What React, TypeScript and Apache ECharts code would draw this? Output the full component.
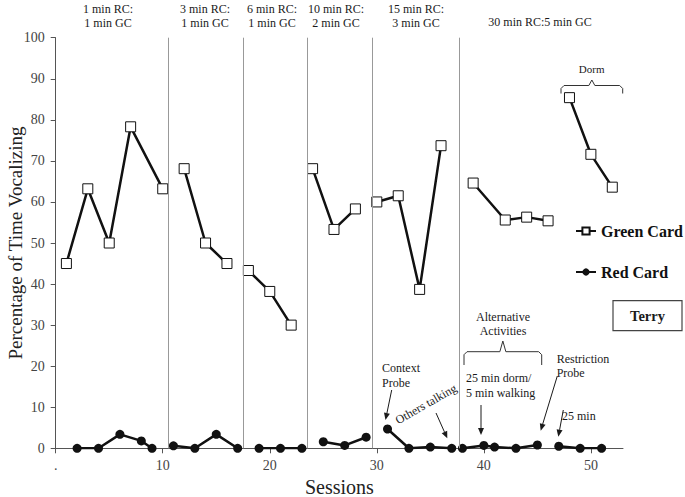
import React, { useEffect, useRef } from "react";
import * as echarts from "echarts";

const FONT = '"Liberation Serif", "Times New Roman", serif';

// Green Card (open squares)
const greenSessions = [1, 3, 5, 7, 10, 12, 14, 16, 18, 20, 22, 24, 26, 28, 30, 32, 34, 36, 39, 42, 44, 46, 48, 50, 52];
const greenValues = [45, 63.2, 50, 78.3, 63.2, 68.1, 50, 45, 43.3, 38.2, 30, 68.1, 53.3, 58.3, 60, 61.5, 38.7, 73.7, 64.6, 55.6, 56.3, 55.4, 85.4, 71.6, 63.6];
const greenSegments = [5, 3, 3, 3, 4, 4, 3];

// Red Card (filled circles)
const redSessions = [2, 4, 6, 8, 9, 11, 13, 15, 17, 19, 21, 23, 25, 27, 29, 31, 33, 35, 37, 38, 40, 41, 43, 45, 47, 49, 51];
const redValues = [0, 0, 3.4, 1.8, 0, 0.6, 0, 3.4, 0, 0, 0, 0, 1.6, 0.7, 2.7, 4.7, 0, 0.3, 0, 0, 0.7, 0.3, 0, 0.8, 0.5, 0, 0];
const redSegments = [5, 4, 3, 3, 4, 5, 3];

// Phase change lines (session positions)
const phaseLines = [10.55, 17.5, 23.46, 29.53, 37.7];
const phaseLabels = [
  "1 min RC:\n1 min GC",
  "3 min RC:\n1 min GC",
  "6 min RC:\n1 min GC",
  "10 min RC:\n2 min GC",
  "15 min RC:\n3 min GC",
  "30 min RC:5 min GC",
];

const xTicks = { min: 0, max: 53, interval: 10 };
const yTicks = { min: 0, max: 100, interval: 10 };

function buildData(xs: number[], ys: number[], segs: number[]) {
  const out: any[] = [];
  let i = 0;
  segs.forEach((n, si) => {
    for (let k = 0; k < n; k++) {
      out.push([xs[i], ys[i]]);
      i++;
    }
    if (si < segs.length - 1) out.push([xs[i - 1] + 0.5, "-"]);
  });
  return out;
}

function txt(text: string, x: number, y: number, size: number, align = "center", extra: any = {}) {
  const { weight, ...rest } = extra;
  return {
    type: "text",
    x,
    y,
    z: 10,
    ...rest,
    style: {
      text,
      font: `${weight || "normal"} ${size}px ${FONT}`,
      fill: "#1a1a1a",
      align,
      verticalAlign: "middle",
    },
  };
}

function arrow(x1: number, y1: number, x2: number, y2: number) {
  const a = Math.atan2(y2 - y1, x2 - x1);
  const L = 7;
  const W = 3;
  const c = Math.cos(a);
  const s = Math.sin(a);
  const bx = x2 - L * c;
  const by = y2 - L * s;
  return {
    type: "group",
    z: 10,
    children: [
      { type: "line", shape: { x1, y1, x2: bx, y2: by }, style: { stroke: "#1a1a1a", lineWidth: 1 } },
      {
        type: "polygon",
        shape: { points: [[x2, y2], [bx - W * s, by + W * c], [bx + W * s, by - W * c]] },
        style: { fill: "#1a1a1a" },
      },
    ],
  };
}

function brace(x1: number, x2: number, yTop: number, yEnd: number, yTip: number) {
  const xm = (x1 + x2) / 2;
  return {
    type: "polyline",
    z: 10,
    shape: {
      points: [
        [x1, yEnd],
        [x1, yTop + 3],
        [x1 + 3, yTop],
        [xm - 3, yTop],
        [xm, yTip],
        [xm + 3, yTop],
        [x2 - 3, yTop],
        [x2, yTop + 3],
        [x2, yEnd],
      ],
    },
    style: { stroke: "#333", lineWidth: 1, fill: null },
  };
}

export default function App() {
  const ref = useRef<HTMLDivElement>(null);
  useEffect(() => {
    if (!ref.current) return;
    const chart = echarts.init(ref.current, undefined, { renderer: "svg" });
    const labelCenters = [108, 205, 272, 336, 416];
    const graphic: any[] = [];
    phaseLabels.slice(0, 5).forEach((t, i) => {
      const [l1, l2] = t.split("\n");
      graphic.push(txt(l1, labelCenters[i], 8.5, 12));
      graphic.push(txt(l2, labelCenters[i], 23.3, 12));
    });
    graphic.push(txt(phaseLabels[5], 540, 22.3, 12));
    graphic.push(txt("Dorm", 591.7, 69, 11));
    graphic.push(brace(561, 622.7, 85.5, 93.5, 80));
    graphic.push(txt("Alternative", 503, 316.7, 12));
    graphic.push(txt("Activities", 503, 331, 12));
    graphic.push(brace(464, 541.7, 351.7, 365, 341));
    graphic.push(txt("Context", 382, 368.3, 12, "left"));
    graphic.push(txt("Probe", 382, 382.7, 12, "left"));
    graphic.push(arrow(391.7, 390, 385.5, 420));
    graphic.push(txt("Others talking", 426, 404, 12, "center", { rotation: 0.52 }));
    graphic.push(arrow(436, 413, 447.3, 438.3));
    graphic.push(txt("25 min dorm/", 466, 378.3, 12, "left"));
    graphic.push(txt("5 min walking", 466, 393.3, 12, "left"));
    graphic.push(arrow(481, 405, 481, 435));
    graphic.push(txt("Restriction", 556.7, 359.3, 12, "left"));
    graphic.push(txt("Probe", 556.7, 372.7, 12, "left"));
    graphic.push(arrow(557.3, 376, 540.7, 430.7));
    graphic.push(txt("25 min", 562, 416, 12, "left"));
    graphic.push(arrow(563.3, 410, 558.3, 436.7));
    graphic.push({
      type: "rect",
      z: 10,
      shape: { x: 613, y: 300.7, width: 69, height: 30 },
      style: { fill: "#fff", stroke: "#444", lineWidth: 1.2 },
    });
    graphic.push(txt("Terry", 647.5, 316, 14.5, "center", { weight: "bold" }));

    const legendText = { fontFamily: FONT, fontWeight: "bold", fontSize: 16, color: "#111" };
    const option: any = {
      animation: false,
      backgroundColor: "#fff",
      textStyle: { fontFamily: FONT },
      grid: { left: 55.7, right: 62, top: 37.7, bottom: 48.7, containLabel: false, outerBoundsMode: "none" },
      legend: [
        { data: ["Green Card"], left: 575, top: 223, padding: 0, itemWidth: 20, itemHeight: 9, textStyle: legendText },
        { data: ["Red Card"], left: 575, top: 264, padding: 0, itemWidth: 20, itemHeight: 9, textStyle: legendText },
      ],
      xAxis: {
        type: "value",
        min: xTicks.min,
        max: xTicks.max,
        interval: xTicks.interval,
        name: "Sessions",
        nameLocation: "middle",
        nameGap: 29,
        nameMoveOverlap: false,
        nameTextStyle: { fontFamily: FONT, fontSize: 20, color: "#222" },
        splitLine: { show: false },
        axisLine: { lineStyle: { color: "#555", width: 1 } },
        axisTick: { show: true, length: 5, lineStyle: { color: "#555" } },
        axisLabel: {
          fontFamily: FONT,
          fontSize: 14,
          color: "#444",
          margin: 10,
          showMaxLabel: false,
          formatter: (v: number) => (v === 0 ? "." : String(v)),
        },
      },
      yAxis: {
        type: "value",
        min: yTicks.min,
        max: yTicks.max,
        interval: yTicks.interval,
        name: "Percentage of Time Vocalizing",
        nameLocation: "middle",
        nameGap: 31,
        nameMoveOverlap: false,
        nameTextStyle: { fontFamily: FONT, fontSize: 19, color: "#222" },
        splitLine: { show: false },
        axisLine: { show: true, lineStyle: { color: "#555", width: 1 } },
        axisTick: { show: true, length: 5, lineStyle: { color: "#555" } },
        axisLabel: { fontFamily: FONT, fontSize: 14, color: "#444", margin: 11 },
      },
      series: [
        {
          name: "Green Card",
          type: "line",
          data: buildData(greenSessions, greenValues, greenSegments),
          connectNulls: false,
          symbol: "rect",
          symbolSize: 10,
          itemStyle: { color: "#fff", borderColor: "#111", borderWidth: 1 },
          lineStyle: { color: "#111", width: 2.5 },
          z: 3,
          markLine: {
            silent: true,
            symbol: "none",
            label: { show: false },
            lineStyle: { color: "#999", type: "solid", width: 1 },
            data: phaseLines.map((x) => ({ xAxis: x })),
          },
        },
        {
          name: "Red Card",
          type: "line",
          data: buildData(redSessions, redValues, redSegments),
          connectNulls: false,
          symbol: "circle",
          symbolSize: 9,
          itemStyle: { color: "#111" },
          lineStyle: { color: "#111", width: 2.5 },
          z: 3,
        },
      ],
      graphic,
    };
    chart.setOption(option);
    return () => chart.dispose();
  }, []);
  return (
    <div
      ref={ref}
      style={{ position: "fixed", left: 0, top: 0, width: 685, height: 497, background: "#fff" }}
    />
  );
}
